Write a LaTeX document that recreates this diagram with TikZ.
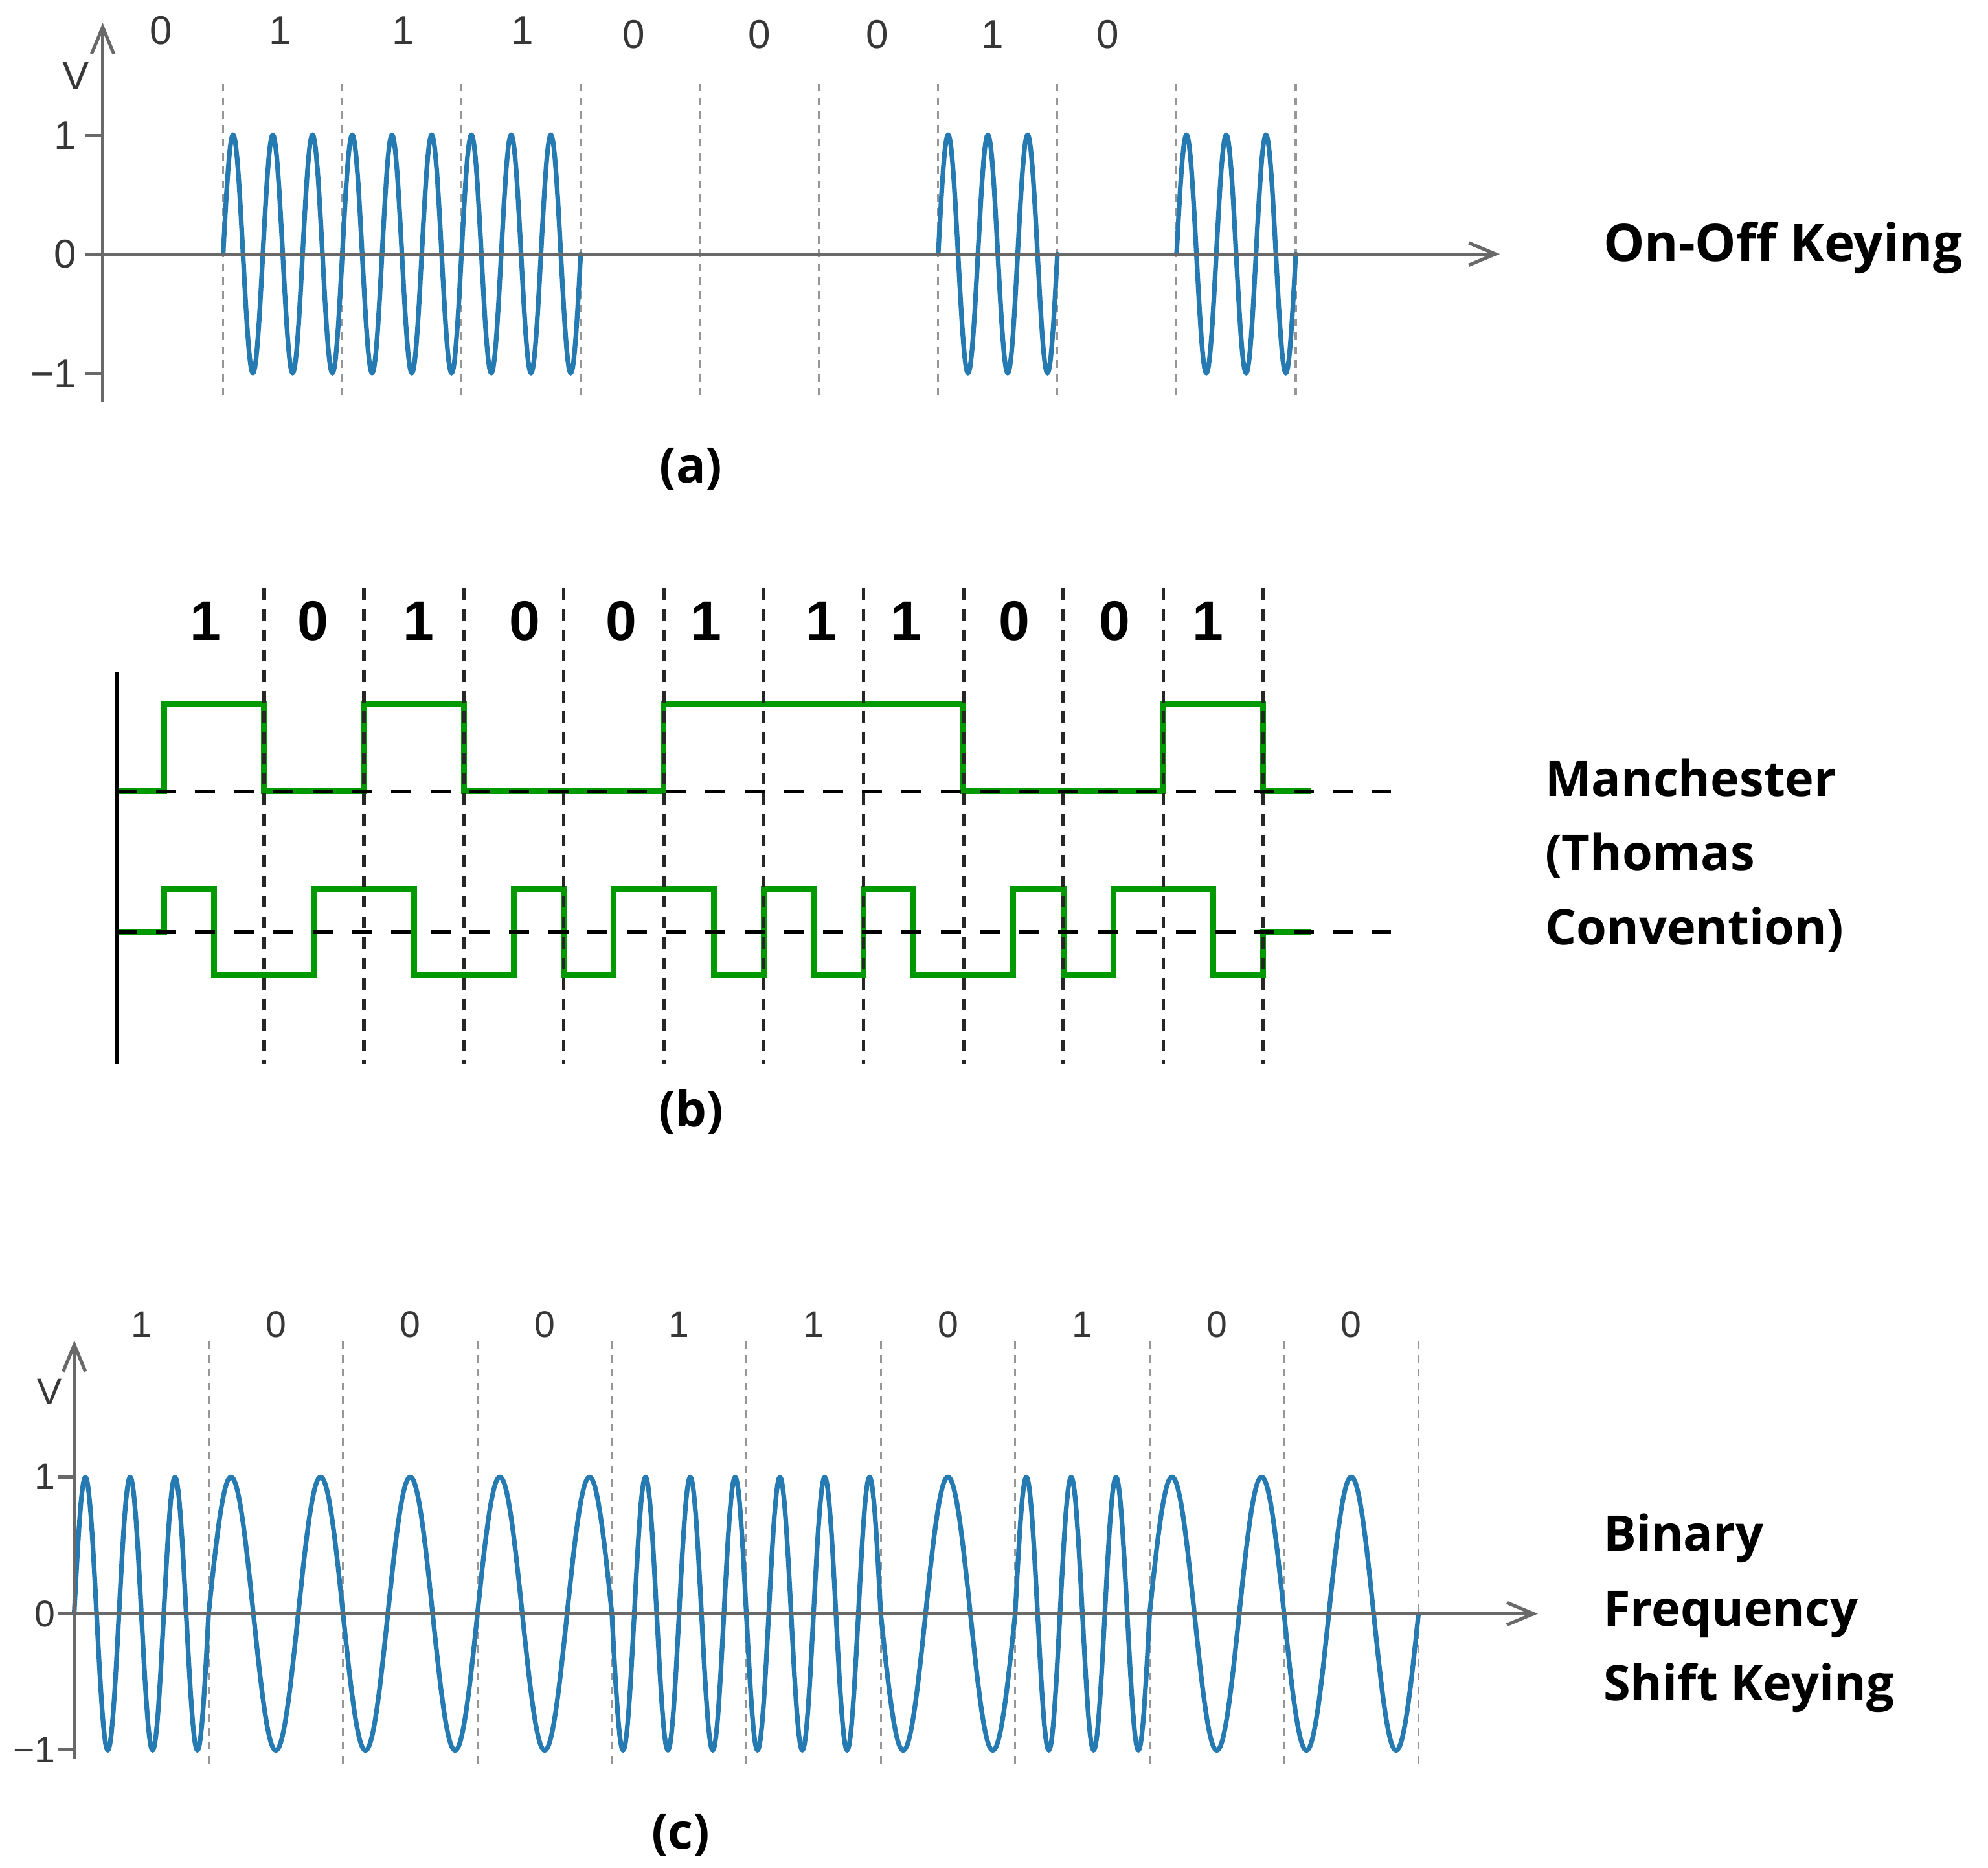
\documentclass[tikz,border=0pt]{standalone}
\usepackage{fontspec}
\setmainfont{Liberation Sans}
\newfontfamily\titlefont{Open Sans}
\usetikzlibrary{arrows.meta}
\definecolor{waveblue}{RGB}{38,122,178}
\definecolor{axisgray}{RGB}{105,105,105}
\definecolor{gridgray}{RGB}{150,150,150}
\definecolor{labgray}{RGB}{55,55,55}
\definecolor{mgreen}{RGB}{0,153,0}
\tikzset{
  axisline/.style={draw=axisgray, line width=0.75pt},
  axarrow/.style={-{Straight Barb[length=6pt,width=5pt]}},
  gridline/.style={draw=gridgray, line width=0.45pt, dash pattern=on 1.7pt off 1.4pt},
  wave/.style={draw=waveblue, line width=1.05pt, line join=round, line cap=round},
  manch/.style={draw=mgreen, line width=1.3pt, line join=miter},
  hdash/.style={draw=black, line width=0.9pt, dash pattern=on 4.5pt off 4.3pt},
  vdash/.style={draw=black!85, line width=0.8pt, dash pattern=on 2.6pt off 2pt},
  blackaxis/.style={draw=black, line width=0.9pt},
  glab/.style={text=labgray, font=\fontsize{9}{10}\selectfont, inner sep=0pt},
  clab/.style={text=labgray, font=\fontsize{8.3}{10}\selectfont, inner sep=0pt},
  blab/.style={text=black, font=\fontsize{12.5}{14}\selectfont\bfseries, inner sep=0pt},
  ttl/.style={font=\titlefont\bfseries\fontsize{11}{13}\selectfont, anchor=base west, inner sep=0pt},
  captext/.style={font=\titlefont\bfseries\fontsize{11}{13}\selectfont, inner sep=0pt}
}
\begin{document}
\begin{tikzpicture}[x=0.01cm, y=-0.01cm]
\useasboundingbox (0,0) rectangle (1568,1473);

% ================= (a) On-Off Keying =================
\foreach \k in {0,...,9} {
  \draw[gridline] ({176+94*\k},66) -- ({176+94*\k},317);
}
\foreach \s/\e/\n/\m in {176/458/9/361, 740/834/3/121, 928/1022/3/121} {
  \draw[wave] plot[domain=\s:\e, samples=\m] (\x,{200.3-94*sin(((\x-\s)/(\e-\s))*360*\n)});
}
\coordinate (aO) at (67,200.3);
\coordinate (aX) at (1183,200.3);
\coordinate (aB) at (81,317);
\coordinate (aT) at (81,18);
\draw[axisline, axarrow] (aO) -- (aX);
\draw[axisline, axarrow] (aB) -- (aT);
\coordinate (at1l) at (67,107);   \coordinate (at1r) at (81,107);
\coordinate (atml) at (67,294.6); \coordinate (atmr) at (81,294.6);
\draw[axisline] (at1l) -- (at1r);
\draw[axisline] (atml) -- (atmr);
\node[glab, anchor=east] (a1) at (61,107) {1};
\node[glab, anchor=east] (a0) at (61,200.3) {0};
\node[glab, anchor=east] (am) at (61,294.6) {−1};
\node[glab] (aV) at (60,60) {V};
\foreach \xx/\yy/\b [count=\i] in {127/24/0, 221/24/1, 318/24/1, 412/24/1, 500/27/0, 599/27/0, 692/27/0, 783/27/1, 874/27/0} {
  \node[glab] (abit\i) at (\xx,\yy) {\b};
}
\node[ttl, font=\titlefont\bfseries\fontsize{11.6}{13}\selectfont] (ook) at (1264,206) {On-Off Keying};
\node[captext] (capa) at (545,370) {(a)};

% ================= (b) Manchester =================
\draw[manch] (92,624) -- (129.5,624) -- (129.5,555) -- (208.3,555) -- (208.3,624)
  -- (287.1,624) -- (287.1,555) -- (365.9,555) -- (365.9,624) -- (523.5,624)
  -- (523.5,555) -- (759.9,555) -- (759.9,624) -- (917.5,624) -- (917.5,555)
  -- (996.3,555) -- (996.3,624) -- (1034,624);
\draw[manch] (92,735) -- (129.5,735) -- (129.5,701) -- (168.9,701) -- (168.9,769)
  -- (247.7,769) -- (247.7,701) -- (326.5,701) -- (326.5,769) -- (405.3,769)
  -- (405.3,701) -- (444.7,701) -- (444.7,769) -- (484.1,769) -- (484.1,701)
  -- (562.9,701) -- (562.9,769) -- (602.3,769) -- (602.3,701) -- (641.7,701)
  -- (641.7,769) -- (681.1,769) -- (681.1,701) -- (720.5,701) -- (720.5,769)
  -- (799.3,769) -- (799.3,701) -- (838.7,701) -- (838.7,769) -- (878.1,769)
  -- (878.1,701) -- (956.9,701) -- (956.9,769) -- (996.3,769) -- (996.3,735)
  -- (1034,735);
\coordinate (bU0) at (92,624);  \coordinate (bU1) at (1097,624);
\coordinate (bL0) at (92,735);  \coordinate (bL1) at (1097,735);
\draw[hdash] (bU0) -- (bU1);
\draw[hdash] (bL0) -- (bL1);
\foreach \k in {0,...,10} {
  \draw[vdash] ({208.3+78.8*\k},464) -- ({208.3+78.8*\k},839);
}
\coordinate (bAT) at (92,530);
\coordinate (bAB) at (92,839);
\draw[blackaxis] (bAT) -- (bAB);
\foreach \xx/\b [count=\i] in {162/1, 247/0, 330/1, 414/0, 490/0, 557/1, 648/1, 715/1, 800/0, 879/0, 953/1} {
  \node[blab] (bbit\i) at (\xx,490) {\b};
}
\node[ttl] (man1) at (1218,627.8) {Manchester};
\node[ttl] (man2) at (1218,686.4) {(Thomas};
\node[ttl] (man3) at (1218,744.8) {Convention)};
\node[captext] (capb) at (545,877) {(b)};

% ================= (c) Binary FSK =================
\foreach \k in {0,...,9} {
  \draw[gridline] ({164.5+106.03*\k},1057.5) -- ({164.5+106.03*\k},1395.7);
}
\foreach \k/\ph/\n in {0/0/3, 1/0/1.5, 2/180/1.5, 3/0/1.5, 4/180/3, 5/180/3, 6/180/1.5, 7/0/3, 8/0/1.5, 9/180/1.5} {
  \pgfmathsetmacro\xa{58.5+106.03*\k}
  \pgfmathsetmacro\xb{\xa+106.03}
  \draw[wave] plot[domain=\xa:\xb, samples=121] (\x,{1272.5-107.8*sin(\ph+((\x-\xa)/106.03)*360*\n)});
}
\coordinate (cO) at (45.6,1272.5);
\coordinate (cX) at (1213,1272.5);
\coordinate (cB) at (58.6,1387);
\coordinate (cT) at (58.6,1057);
\draw[axisline, axarrow] (cO) -- (cX);
\draw[axisline, axarrow] (cB) -- (cT);
\coordinate (ct1l) at (45.6,1164.5); \coordinate (ct1r) at (58.6,1164.5);
\coordinate (ctml) at (45.6,1380);   \coordinate (ctmr) at (58.6,1380);
\draw[axisline] (ct1l) -- (ct1r);
\draw[axisline] (ctml) -- (ctmr);
\node[clab, anchor=east] (c1) at (44.5,1164.5) {1};
\node[clab, anchor=east] (c0) at (44.5,1272.5) {0};
\node[clab, anchor=east] (cm) at (44.5,1380) {−1};
\node[clab] (cV) at (39,1097.5) {V};
\foreach \b [count=\i] in {1,0,0,0,1,1,0,1,0,0} {
  \node[clab] (cbit\i) at ({58.5+106.03*(\i-0.5)},1044.5) {\b};
}
\node[ttl] (bfsk1) at (1264,1223) {Binary};
\node[ttl] (bfsk2) at (1264,1282) {Frequency};
\node[ttl] (bfsk3) at (1264,1341) {Shift Keying};
\node[captext] (capc) at (537,1447) {(c)};
\end{tikzpicture}
\end{document}
